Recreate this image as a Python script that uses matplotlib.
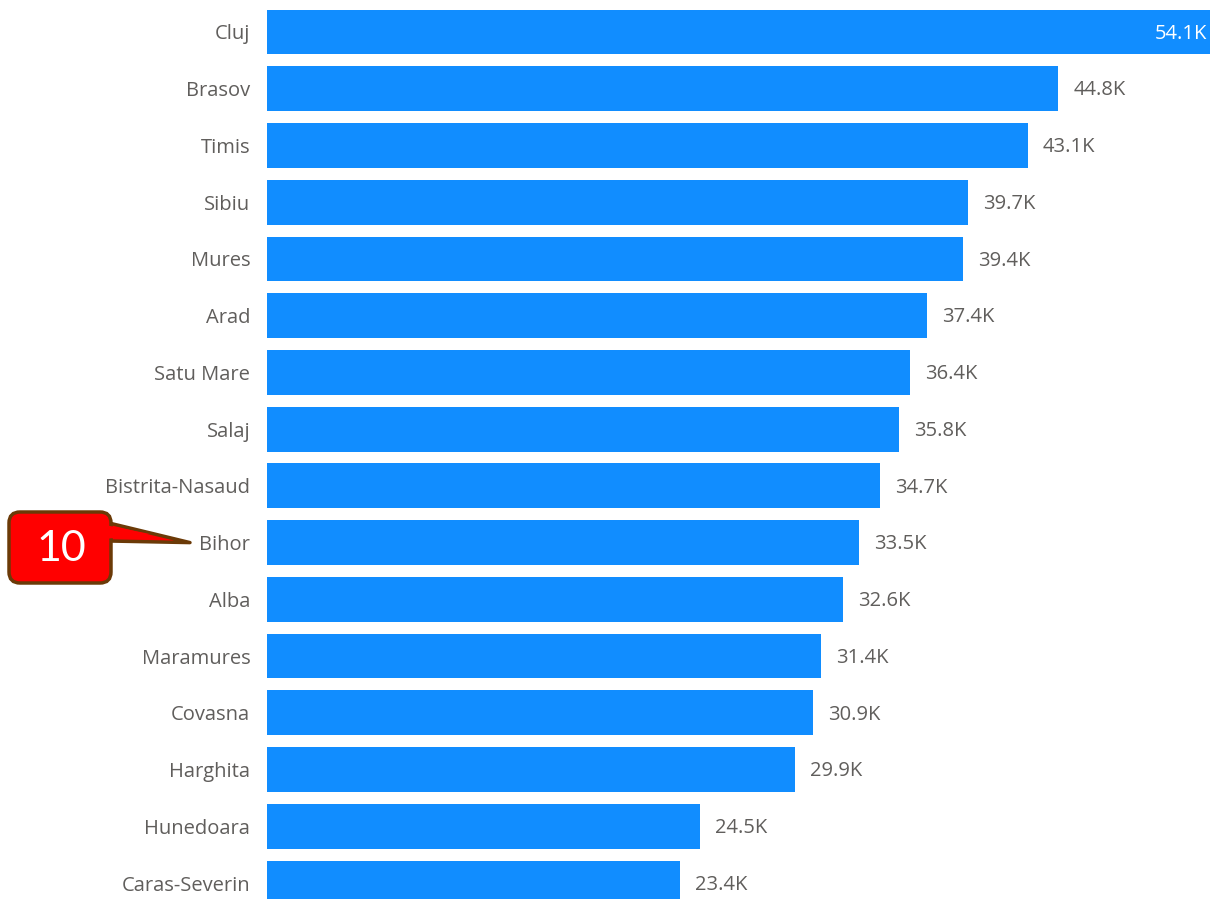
import numpy as np
import matplotlib
matplotlib.use("Agg")
import matplotlib.pyplot as plt
from matplotlib.patches import FancyBboxPatch, Polygon
from matplotlib.transforms import Affine2D

# ===== DATA =====
judete = ["Cluj", "Brasov", "Timis", "Sibiu", "Mures", "Arad", "Satu Mare",
          "Salaj", "Bistrita-Nasaud", "Bihor", "Alba", "Maramures",
          "Covasna", "Harghita", "Hunedoara", "Caras-Severin"]
valori = [54.1, 44.8, 43.1, 39.7, 39.4, 37.4, 36.4, 35.8, 34.7, 33.5,
          32.6, 31.4, 30.9, 29.9, 24.5, 23.4]
callout_text = "10"
callout_target = "Bihor"

W, H = 1210, 899
albastru = "#118DFF"
gri = "#605E5C"

plt.rcParams['font.family'] = ['Open Sans', 'DejaVu Sans']

fig = plt.figure(figsize=(W / 100, H / 100), dpi=100)
ax = fig.add_axes([267 / W, 0, 1 - 267 / W, 1])

y = np.arange(len(judete))
ax.barh(y, valori, height=0.79, color=albastru)

xmax = 53.4
ax.set_xlim(0, xmax)
ax.set_ylim(15.282, -0.564)

# etichete valori
for yi, v in zip(y, valori):
    if v > xmax:
        ax.text(xmax - 0.15, yi + 0.03, f"{v:.1f}K", va="center", ha="right",
                color="white", fontsize=14.5)
    else:
        ax.text(v + 0.85, yi + 0.03, f"{v:.1f}K", va="center", ha="left",
                color=gri, fontsize=14.5)

ax.set_yticks(y)
ax.set_yticklabels(judete, fontsize=14.5, color=gri)
ax.tick_params(axis="y", length=0, pad=12)
ax.set_xticks([])
for s in ax.spines.values():
    s.set_visible(False)

# ===== CALLOUT =====
px = Affine2D().scale(1 / W, -1 / H).translate(0, 1) + fig.transFigure
ty = judete.index(callout_target)
tip_y = H - ax.transData.transform((0, ty))[1]
tip = (190, tip_y)

box = FancyBboxPatch((9, 512), 102, 71, boxstyle="round,pad=0,rounding_size=11",
                     fc="#FF0000", ec="#6B3A07", lw=2.5, transform=px, zorder=5)
fig.patches.append(box)
wedge = Polygon([(109, 523), tip, (109, 541)], closed=True, fc="#FF0000",
                ec="#6B3A07", lw=2.5, transform=px, zorder=4, joinstyle="round")
fig.patches.append(wedge)
cover = Polygon([(105, 525), (150, 534), (105, 539)], closed=True,
                fc="#FF0000", ec="none", transform=px, zorder=6)
fig.patches.append(cover)
fig.text(61 / W, 1 - 549 / H, callout_text, color="white", fontsize=31,
         ha="center", va="center", family=["Lato", "DejaVu Sans"], zorder=7)

fig.savefig("out.png", dpi=100, facecolor="white")
